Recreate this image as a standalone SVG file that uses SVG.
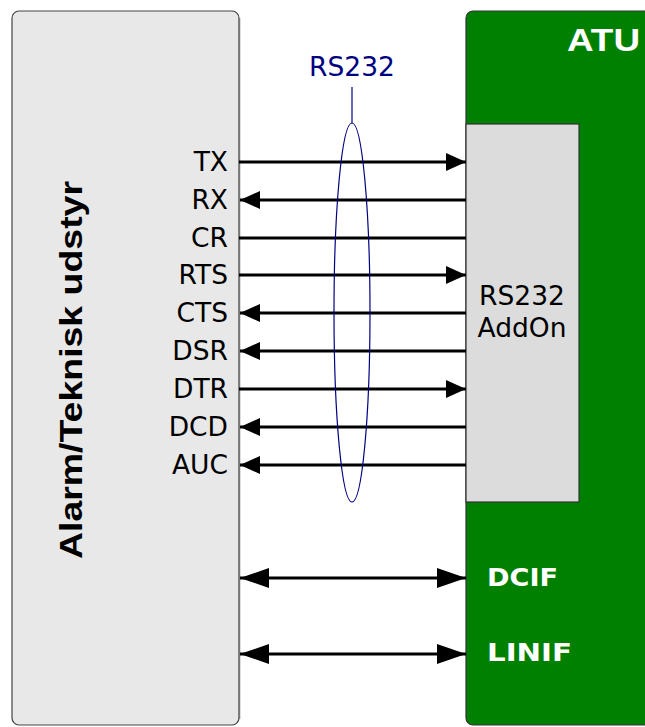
<svg xmlns="http://www.w3.org/2000/svg" width="645" height="727" viewBox="0 0 645 727">
<defs>
<style>
.sig{font-family:"DejaVu Sans",Verdana,sans-serif;font-size:26.5px;fill:#000;text-anchor:end}
.wire{stroke:#000;stroke-width:3;fill:none}
.ifl{font-family:"DejaVu Sans",Verdana,sans-serif;font-weight:bold;font-size:25px;fill:#fff}
</style>
<marker id="ah" viewBox="0 0 20 18" refX="20" refY="9" markerWidth="20" markerHeight="18" markerUnits="userSpaceOnUse" orient="auto-start-reverse">
<path d="M0,0 L20,9 L0,18 Z" fill="#000"/>
</marker>
<marker id="bh" viewBox="0 0 29 20" refX="29" refY="10" markerWidth="29" markerHeight="20" markerUnits="userSpaceOnUse" orient="auto-start-reverse">
<path d="M0,0 L29,10 L0,20 Z" fill="#000"/>
</marker>
</defs>
<rect width="645" height="727" fill="#fff"/>
<g id="alarm">
<rect x="12" y="11" width="227" height="714" rx="7" fill="#e8e8e8" stroke="#444" stroke-width="1.2"/>
<line x1="239.5" y1="18" x2="239.5" y2="719" stroke="#777" stroke-width="1.5"/>
<text transform="translate(82,370) rotate(-90)" text-anchor="middle" font-family="Liberation Sans,Arial,sans-serif" font-weight="bold" font-size="31" textLength="378" lengthAdjust="spacingAndGlyphs">Alarm/Teknisk udstyr</text>
<text class="sig" x="228" y="171">TX</text>
<text class="sig" x="228" y="209">RX</text>
<text class="sig" x="228" y="247">CR</text>
<text class="sig" x="228" y="284">RTS</text>
<text class="sig" x="228" y="322">CTS</text>
<text class="sig" x="228" y="360">DSR</text>
<text class="sig" x="228" y="398">DTR</text>
<text class="sig" x="228" y="436">DCD</text>
<text class="sig" x="228" y="474">AUC</text>
</g>
<g id="atu">
<rect x="466" y="11" width="200" height="714" rx="7" fill="#008000" stroke="#333" stroke-width="1.2"/>
<text x="567" y="51" font-family="Liberation Sans,Arial,sans-serif" font-weight="bold" font-size="31" fill="#fff" textLength="73" lengthAdjust="spacingAndGlyphs">ATU</text>
<text class="ifl" x="487" y="586" textLength="71" lengthAdjust="spacingAndGlyphs">DCIF</text>
<text class="ifl" x="487" y="661" textLength="85" lengthAdjust="spacingAndGlyphs">LINIF</text>
</g>
<g id="addon">
<rect x="466" y="124" width="113" height="378" fill="#dcdcdc" stroke="#333" stroke-width="1.2"/>
<text x="522" y="305" font-family="DejaVu Sans,Verdana,sans-serif" font-size="26.5" text-anchor="middle">RS232</text>
<text x="522" y="337" font-family="DejaVu Sans,Verdana,sans-serif" font-size="26.5" text-anchor="middle">AddOn</text>
</g>
<g id="connectors">
<line class="wire" x1="239" y1="162" x2="466" y2="162" marker-end="url(#ah)"/>
<line class="wire" x1="466" y1="200" x2="240" y2="200" marker-end="url(#ah)"/>
<line class="wire" x1="239" y1="238" x2="466" y2="238"/>
<line class="wire" x1="239" y1="275" x2="466" y2="275" marker-end="url(#ah)"/>
<line class="wire" x1="466" y1="313" x2="240" y2="313" marker-end="url(#ah)"/>
<line class="wire" x1="466" y1="351" x2="240" y2="351" marker-end="url(#ah)"/>
<line class="wire" x1="239" y1="389" x2="466" y2="389" marker-end="url(#ah)"/>
<line class="wire" x1="466" y1="427" x2="240" y2="427" marker-end="url(#ah)"/>
<line class="wire" x1="466" y1="465" x2="240" y2="465" marker-end="url(#ah)"/>
<line class="wire" x1="240" y1="578" x2="466" y2="578" marker-start="url(#bh)" marker-end="url(#bh)"/>
<line class="wire" x1="240" y1="654" x2="466" y2="654" marker-start="url(#bh)" marker-end="url(#bh)"/>
</g>
<g id="rs232">
<ellipse cx="352" cy="312.5" rx="18" ry="189.5" fill="none" stroke="#000080" stroke-width="1.2"/>
<line x1="352" y1="87" x2="352" y2="123" stroke="#000080" stroke-width="1.2"/>
<text x="352" y="76" font-family="DejaVu Sans,Verdana,sans-serif" font-size="26.5" fill="#000080" text-anchor="middle">RS232</text>
</g>
</svg>
